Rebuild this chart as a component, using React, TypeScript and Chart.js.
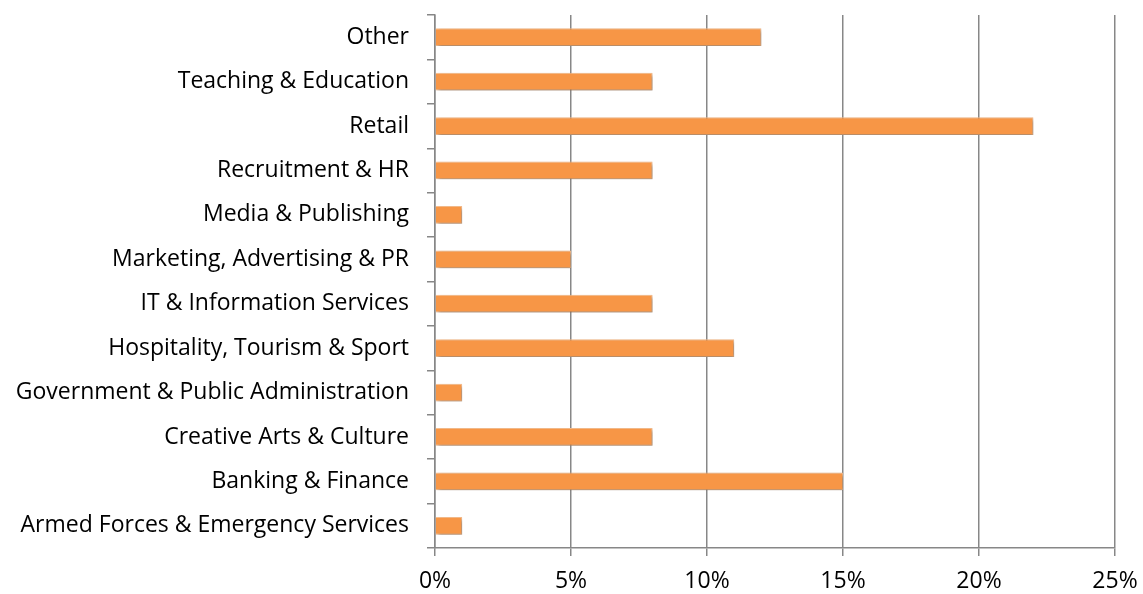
import React, { useEffect, useRef } from "react";
import { Chart, registerables } from "chart.js";

Chart.register(...registerables);

const categories = [
  "Other",
  "Teaching & Education",
  "Retail",
  "Recruitment & HR",
  "Media & Publishing",
  "Marketing, Advertising & PR",
  "IT & Information Services",
  "Hospitality, Tourism & Sport",
  "Government & Public Administration",
  "Creative Arts & Culture",
  "Banking & Finance",
  "Armed Forces & Emergency Services",
];
const values = [12, 8, 22, 8, 1, 5, 8, 11, 1, 8, 15, 1];
const xTicks = [0, 5, 10, 15, 20, 25];

const FONT = "'Open Sans', sans-serif";
const GRID = "#878787";

const shadowPlugin = {
  id: "barShadow",
  beforeDatasetsDraw(chart: any) {
    const ctx = chart.ctx;
    ctx.save();
    ctx.shadowColor = "rgba(0,0,0,0.35)";
    ctx.shadowBlur = 4;
    ctx.shadowOffsetX = 2;
    ctx.shadowOffsetY = 2;
  },
  afterDatasetsDraw(chart: any) {
    chart.ctx.restore();
  },
};

export default function App() {
  const ref = useRef<HTMLCanvasElement | null>(null);
  useEffect(() => {
    document.body.style.margin = "0";
    const canvas = ref.current;
    if (!canvas) return;
    const chart = new Chart(canvas, {
      type: "bar",
      data: {
        labels: categories,
        datasets: [
          {
            data: values,
            backgroundColor: "#F79646",
            borderColor: "#FBC08E",
            borderWidth: 1,
            categoryPercentage: 1,
            barPercentage: 0.4,
          },
        ],
      },
      options: {
        indexAxis: "y",
        animation: false,
        responsive: false,
        events: [],
        layout: { padding: { top: 15, right: 28, left: 0, bottom: 0 } },
        plugins: { legend: { display: false }, tooltip: { enabled: false } },
        scales: {
          x: {
            min: 0,
            max: 25,
            afterBuildTicks(scale: any) {
              scale.ticks = xTicks.map((v) => ({ value: v }));
            },
            afterFit(scale: any) {
              scale.height = 46;
              scale.paddingLeft = 0;
              scale.paddingRight = 0;
            },
            ticks: {
              callback: (v: any) => v + "%",
              color: "#000",
              font: { family: FONT, size: 23 },
              padding: 12,
              maxRotation: 0,
            },
            grid: { color: GRID, lineWidth: 1.5, tickLength: 8, drawOnChartArea: true },
            border: { display: true, color: GRID, width: 1.5 },
          },
          y: {
            afterFit(scale: any) {
              scale.width = 435;
              scale.paddingTop = 0;
              scale.paddingBottom = 0;
            },
            ticks: {
              color: "#000",
              font: { family: FONT, size: 23 },
              padding: 18,
              autoSkip: false,
            },
            grid: { color: GRID, lineWidth: 1.5, tickLength: 8, drawOnChartArea: false, offset: true },
            border: { display: true, color: GRID, width: 1.5 },
          },
        },
      },
      plugins: [shadowPlugin],
    } as any);
    return () => chart.destroy();
  }, []);
  return <canvas ref={ref} width={1143} height={594} style={{ display: "block" }} />;
}
